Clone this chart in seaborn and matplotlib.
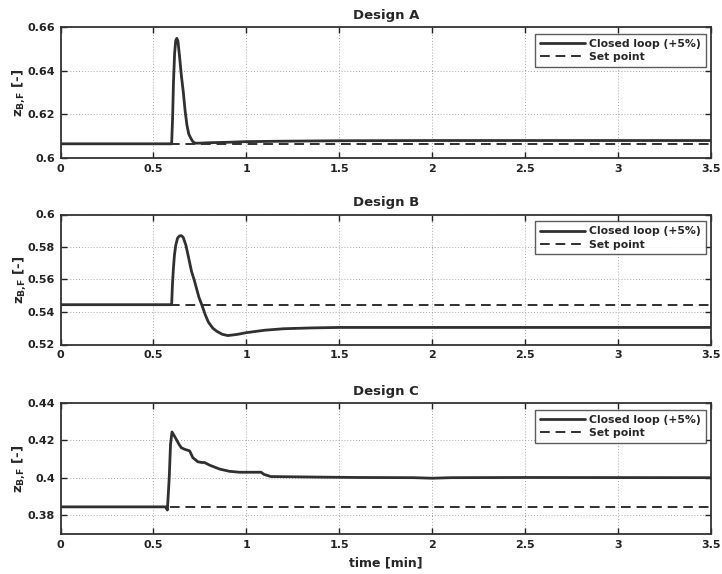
import numpy as np
import pandas as pd
import matplotlib
matplotlib.use("Agg")
import matplotlib.pyplot as plt
import seaborn as sns

# ---------------- data ----------------
titles = ["Design A", "Design B", "Design C"]

t_a = [0, 0.598, 0.603, 0.608, 0.614, 0.620, 0.626, 0.632, 0.640, 0.650, 0.661,
       0.670, 0.680, 0.690, 0.700, 0.712, 0.724, 0.75, 0.8, 0.9, 1.0, 1.2, 1.5,
       2.0, 3.5]
z_a = [0.6065, 0.6065, 0.618, 0.635, 0.648, 0.6538, 0.6548, 0.6535, 0.647, 0.638,
       0.630, 0.622, 0.6152, 0.611, 0.6092, 0.6075, 0.6068, 0.6068, 0.607, 0.6072,
       0.6075, 0.6077, 0.6079, 0.608, 0.608]

t_b = [0, 0.598, 0.602, 0.607, 0.613, 0.620, 0.630, 0.640, 0.650, 0.660, 0.675,
       0.690, 0.705, 0.720, 0.733, 0.745, 0.760, 0.780, 0.796, 0.82, 0.84, 0.87,
       0.90, 0.95, 1.00, 1.1, 1.2, 1.35, 1.5, 2.0, 3.5]
z_b = [0.5445, 0.5445, 0.556, 0.566, 0.575, 0.581, 0.5855, 0.5868, 0.587, 0.586,
       0.581, 0.573, 0.565, 0.5595, 0.554, 0.549, 0.5445, 0.538, 0.5337, 0.5300,
       0.5282, 0.5263, 0.5255, 0.5262, 0.5273, 0.5288, 0.5297, 0.5302, 0.5305,
       0.5305, 0.5305]

t_c = [0, 0.565, 0.575, 0.585, 0.592, 0.600, 0.612, 0.6235, 0.637, 0.650, 0.670,
       0.686, 0.695, 0.712, 0.739, 0.760, 0.775, 0.802, 0.856, 0.909, 0.963, 1.079,
       1.096, 1.132, 1.39, 1.6, 1.9, 2.0, 2.1, 2.5, 3.5]
z_c = [0.3845, 0.3845, 0.3828, 0.400, 0.418, 0.4245, 0.4225, 0.4205, 0.418, 0.4161,
       0.4152, 0.4147, 0.4144, 0.4108, 0.4086, 0.4082, 0.4082, 0.4068, 0.4047,
       0.4035, 0.4030, 0.4030, 0.4018, 0.4007, 0.4004, 0.4002, 0.4001, 0.3998,
       0.4001, 0.4002, 0.4001]

setpoints = [0.6065, 0.5445, 0.3845]

y_limits = [(0.60, 0.66), (0.52, 0.60), (0.37, 0.44)]
y_ticks = [[0.6, 0.62, 0.64, 0.66],
           [0.52, 0.54, 0.56, 0.58, 0.6],
           [0.38, 0.40, 0.42, 0.44]]
y_ticklabels = [["0.6", "0.62", "0.64", "0.66"],
                ["0.52", "0.54", "0.56", "0.58", "0.6"],
                ["0.38", "0.4", "0.42", "0.44"]]
x_ticks = [0, 0.5, 1, 1.5, 2, 2.5, 3, 3.5]
x_ticklabels = ["0", "0.5", "1", "1.5", "2", "2.5", "3", "3.5"]

series_label = "Closed loop (+5%)"
setpoint_label = "Set point"

# ---------------- style ----------------
sns.set_style("white")
plt.rcParams["font.family"] = ["DejaVu Sans"]
plt.rcParams["font.weight"] = "bold"
plt.rcParams["mathtext.default"] = "bf"

W, H = 722, 574
fig = plt.figure(figsize=(W / 100, H / 100), dpi=100)

left = 60.5 / W
width = (711 - 60.5) / W
tops = [27, 214.5, 403]
bottoms = [158, 344.5, 534]

line_col = "#303030"
ts = [t_a, t_b, t_c]
zs = [z_a, z_b, z_c]

for i in range(3):
    ax = fig.add_axes([left, 1 - bottoms[i] / H, width, (bottoms[i] - tops[i]) / H])
    df = pd.DataFrame({"t": ts[i], "z": zs[i]})
    sp = pd.DataFrame({"t": [0, 3.5], "z": [setpoints[i]] * 2})
    sns.lineplot(data=df, x="t", y="z", ax=ax, color=line_col, lw=2.0,
                 label=series_label, estimator=None, sort=False, zorder=3)
    sns.lineplot(data=sp, x="t", y="z", ax=ax, color=line_col, lw=1.4,
                 linestyle=(0, (5, 3)), label=setpoint_label, estimator=None,
                 zorder=2)
    ax.set_xlim(0, 3.5)
    ax.set_ylim(*y_limits[i])
    ax.set_xticks(x_ticks)
    ax.set_xticklabels(x_ticklabels, fontsize=8, fontweight="bold")
    ax.set_yticks(y_ticks[i])
    ax.set_yticklabels(y_ticklabels[i], fontsize=8, fontweight="bold")
    ax.grid(True, linestyle=(0, (1, 2)), color="#a8a8a8", lw=0.7)
    ax.tick_params(direction="in", length=4, width=1.0, top=True, right=True,
                   bottom=True, left=True, colors="#222222", pad=4)
    for s in ax.spines.values():
        s.set_visible(True)
        s.set_color("#333333")
        s.set_linewidth(1.3)
    ax.set_title(titles[i], fontsize=9.5, fontweight="bold", pad=6)
    ax.set_ylabel(r"$z_{B{,}F}$ [-]", fontsize=9.5, fontweight="bold", labelpad=0)
    if i == 2:
        ax.set_xlabel("time [min]", fontsize=9, fontweight="bold", labelpad=5)
    else:
        ax.set_xlabel("")
    leg = ax.legend(loc="upper right", bbox_to_anchor=(1 - 5 / 650, 1 - 7 / 131),
                    borderaxespad=0, fontsize=7.8, frameon=True, fancybox=False,
                    handlelength=4.2, handletextpad=0.4, labelspacing=0.3,
                    borderpad=0.45)
    leg.get_frame().set_edgecolor("#333333")
    leg.get_frame().set_linewidth(1.0)
    for txt in leg.get_texts():
        txt.set_fontweight("bold")

fig.savefig("out.png", dpi=100)
